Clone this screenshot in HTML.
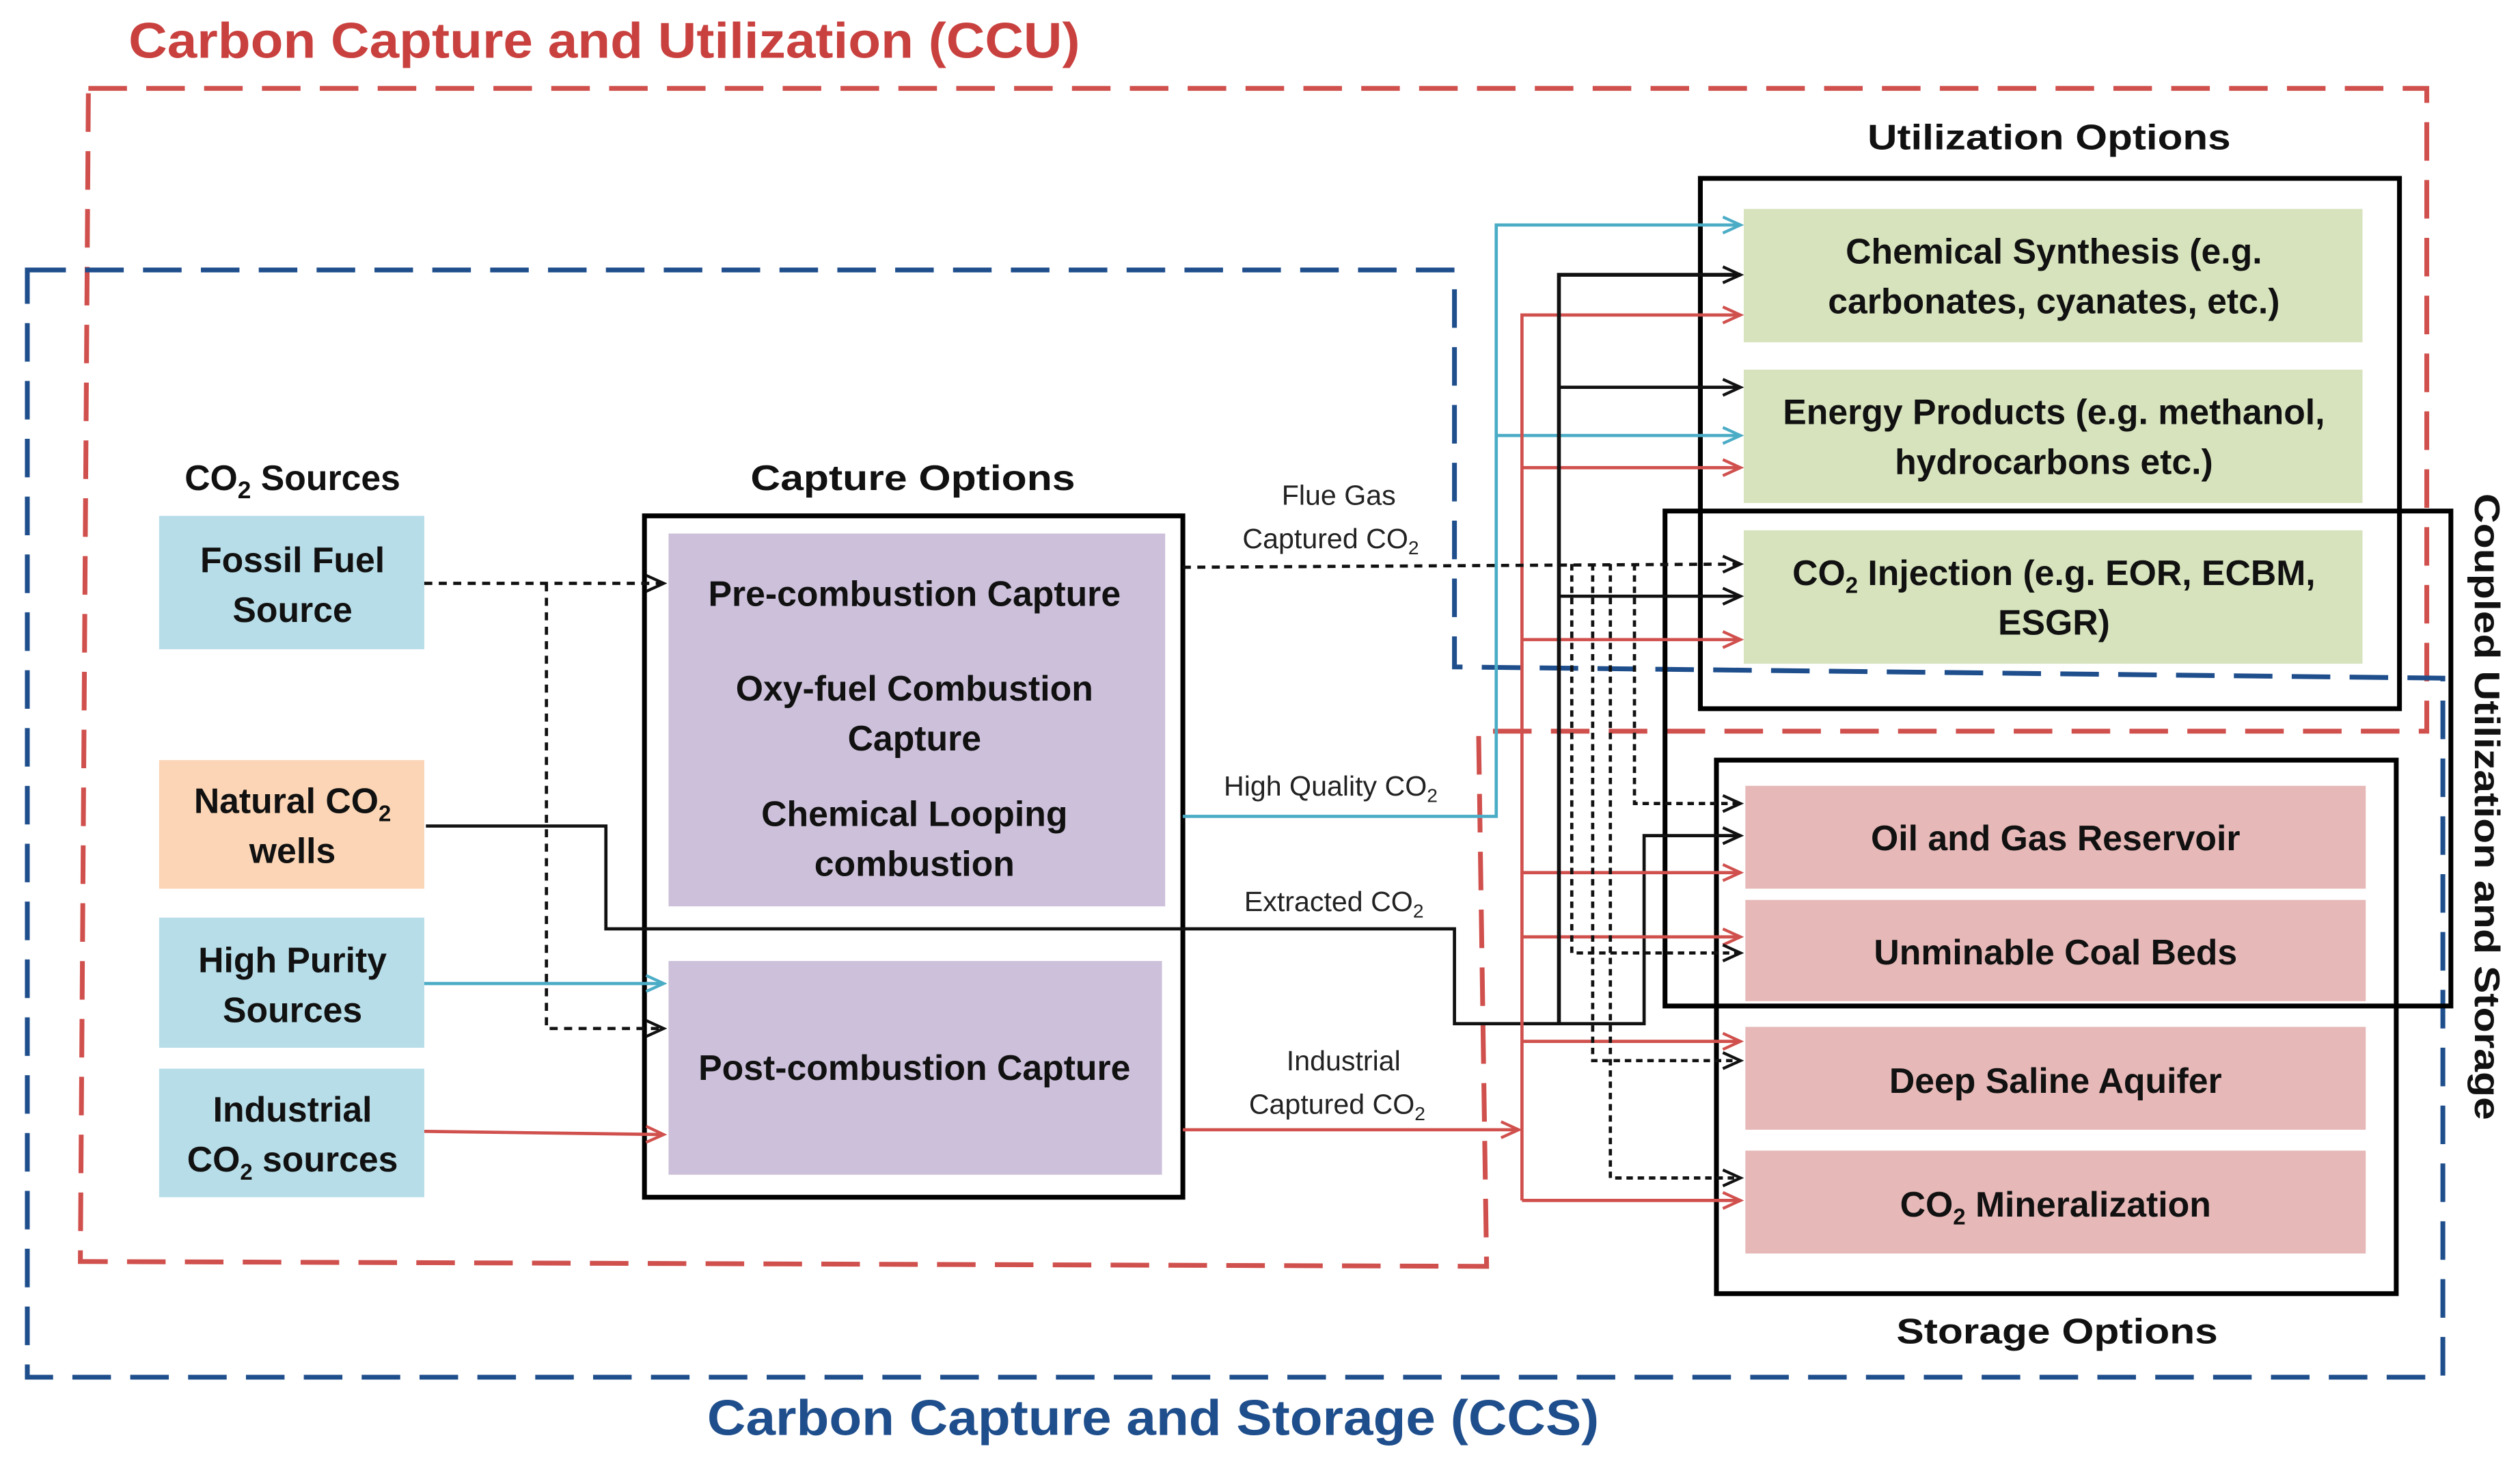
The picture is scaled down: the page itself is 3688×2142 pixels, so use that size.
<!DOCTYPE html>
<html><head><meta charset="utf-8"><style>
html,body{margin:0;padding:0;background:#fff;}
svg{display:block;}
text{font-family:"Liberation Sans",sans-serif;}
.b{font-weight:bold;font-size:22px;fill:#111;text-anchor:middle;}
.s{font-size:17.5px;fill:#222;text-anchor:middle;}
</style></head><body>
<svg width="3688" height="2142" viewBox="0 0 1568 911" preserveAspectRatio="none" xmlns="http://www.w3.org/2000/svg">
<defs>
<marker id="ak" markerWidth="14" markerHeight="12" refX="12" refY="6" orient="auto" markerUnits="userSpaceOnUse"><path d="M1,1 L12,6 L1,11" fill="none" stroke="#111" stroke-width="1.8"/></marker>
<marker id="ar" markerWidth="14" markerHeight="12" refX="12" refY="6" orient="auto" markerUnits="userSpaceOnUse"><path d="M1,1 L12,6 L1,11" fill="none" stroke="#d0504d" stroke-width="1.8"/></marker>
<marker id="ac" markerWidth="14" markerHeight="12" refX="12" refY="6" orient="auto" markerUnits="userSpaceOnUse"><path d="M1,1 L12,6 L1,11" fill="none" stroke="#4bacc6" stroke-width="1.8"/></marker>
</defs>
<rect width="1568" height="911" fill="#fff"/>

<text x="80" y="36" textLength="592" lengthAdjust="spacingAndGlyphs" style="font-weight:bold;font-size:31px;fill:#c9413f">Carbon Capture and Utilization (CCU)</text>
<text x="440" y="893" textLength="555" lengthAdjust="spacingAndGlyphs" style="font-weight:bold;font-size:31px;fill:#1f4e8c">Carbon Capture and Storage (CCS)</text>

<path d="M55,55 L1510,55 L1510,455 L920,455 L925,788 L50,785 Z" fill="none" stroke="#d0504d" stroke-width="3" stroke-dasharray="24,12"/>
<path d="M17,168 L905,168 L905,415 L1520,422 L1520,857 L17,857 Z" fill="none" stroke="#1f4e8c" stroke-width="3" stroke-dasharray="24,12"/>

<text x="1275" y="93" class="b" textLength="226" lengthAdjust="spacingAndGlyphs">Utilization Options</text>
<rect x="1085" y="130" width="385" height="83" fill="#d6e3bc"/>
<rect x="1085" y="230" width="385" height="83" fill="#d6e3bc"/>
<rect x="1085" y="330" width="385" height="83" fill="#d6e3bc"/>
<text x="1278" y="164" class="b">Chemical Synthesis (e.g.</text>
<text x="1278" y="195" class="b">carbonates, cyanates, etc.)</text>
<text x="1278" y="264" class="b">Energy Products (e.g. methanol,</text>
<text x="1278" y="295" class="b">hydrocarbons etc.)</text>
<text x="1278" y="364" class="b">CO<tspan font-size="14" dy="5">2</tspan><tspan dy="-5"> Injection (e.g. EOR, ECBM,</tspan></text>
<text x="1278" y="395" class="b">ESGR)</text>

<rect x="1086" y="489" width="386" height="64" fill="#e6b8b7"/>
<rect x="1086" y="560" width="386" height="63" fill="#e6b8b7"/>
<rect x="1086" y="639" width="386" height="64" fill="#e6b8b7"/>
<rect x="1086" y="716" width="386" height="64" fill="#e6b8b7"/>
<text x="1279" y="529" class="b">Oil and Gas Reservoir</text>
<text x="1279" y="600" class="b">Unminable Coal Beds</text>
<text x="1279" y="680" class="b">Deep Saline Aquifer</text>
<text x="1279" y="757" class="b">CO<tspan font-size="14" dy="5">2</tspan><tspan dy="-5"> Mineralization</tspan></text>
<text x="1280" y="836" class="b" textLength="200" lengthAdjust="spacingAndGlyphs">Storage Options</text>

<rect x="1058" y="111" width="435" height="330" fill="none" stroke="#000" stroke-width="3"/>
<rect x="1036" y="318" width="489" height="308" fill="none" stroke="#000" stroke-width="3"/>
<rect x="1068" y="473" width="423" height="332" fill="none" stroke="#000" stroke-width="3"/>
<text transform="translate(1540,502) rotate(90)" class="b" textLength="390" lengthAdjust="spacingAndGlyphs">Coupled Utilization and Storage</text>

<text x="182" y="305" class="b">CO<tspan font-size="15" dy="5">2</tspan><tspan dy="-5"> Sources</tspan></text>
<rect x="99" y="321" width="165" height="83" fill="#b7dde8"/>
<rect x="99" y="473" width="165" height="80" fill="#fbd5b5"/>
<rect x="99" y="571" width="165" height="81" fill="#b7dde8"/>
<rect x="99" y="665" width="165" height="80" fill="#b7dde8"/>
<text x="182" y="356" class="b">Fossil Fuel</text>
<text x="182" y="387" class="b">Source</text>
<text x="182" y="506" class="b">Natural CO<tspan font-size="14" dy="5">2</tspan></text>
<text x="182" y="537" class="b">wells</text>
<text x="182" y="605" class="b">High Purity</text>
<text x="182" y="636" class="b">Sources</text>
<text x="182" y="698" class="b">Industrial</text>
<text x="182" y="729" class="b">CO<tspan font-size="14" dy="5">2</tspan><tspan dy="-5"> sources</tspan></text>

<text x="568" y="305" class="b" textLength="202" lengthAdjust="spacingAndGlyphs">Capture Options</text>
<rect x="416" y="332" width="309" height="232" fill="#ccc0da"/>
<rect x="416" y="598" width="307" height="133" fill="#ccc0da"/>
<rect x="401" y="321" width="335" height="424" fill="none" stroke="#000" stroke-width="3"/>
<text x="569" y="377" class="b">Pre-combustion Capture</text>
<text x="569" y="436" class="b">Oxy-fuel Combustion</text>
<text x="569" y="467" class="b">Capture</text>
<text x="569" y="514" class="b">Chemical Looping</text>
<text x="569" y="545" class="b">combustion</text>
<text x="569" y="672" class="b">Post-combustion Capture</text>

<g fill="none" stroke-width="2">
<path d="M264,363 L413,363" stroke="#111" stroke-dasharray="5,4" marker-end="url(#ak)"/>
<path d="M340,363 L340,640 L413,640" stroke="#111" stroke-dasharray="5,4" marker-end="url(#ak)"/>
<path d="M264,612 L413,612" stroke="#4bacc6" marker-end="url(#ac)"/>
<path d="M264,704 L413,706" stroke="#d0504d" marker-end="url(#ar)"/>
<path d="M265,514 L377,514 L377,578 L905,578 L905,637 L1023,637 L1023,520 L1083,520" stroke="#111" marker-end="url(#ak)"/>
</g>

<text x="833" y="314" class="s">Flue Gas</text>
<text x="828" y="341" class="s">Captured CO<tspan font-size="12" dy="4">2</tspan></text>
<text x="828" y="495" class="s">High Quality CO<tspan font-size="12" dy="4">2</tspan></text>
<text x="830" y="567" class="s">Extracted CO<tspan font-size="12" dy="4">2</tspan></text>
<text x="836" y="666" class="s">Industrial</text>
<text x="832" y="693" class="s">Captured CO<tspan font-size="12" dy="4">2</tspan></text>

<g fill="none" stroke-width="2">
<path d="M736,508 L931,508 L931,140 L1083,140" stroke="#4bacc6" marker-end="url(#ac)"/>
<path d="M931,271 L1083,271" stroke="#4bacc6" marker-end="url(#ac)"/>
<path d="M736,703 L945,703" stroke="#d0504d" marker-end="url(#ar)"/>
<path d="M947,747 L947,196 L1083,196" stroke="#d0504d" marker-end="url(#ar)"/>
<path d="M947,291 L1083,291" stroke="#d0504d" marker-end="url(#ar)"/>
<path d="M947,398 L1083,398" stroke="#d0504d" marker-end="url(#ar)"/>
<path d="M947,543 L1083,543" stroke="#d0504d" marker-end="url(#ar)"/>
<path d="M947,583 L1083,583" stroke="#d0504d" marker-end="url(#ar)"/>
<path d="M947,648 L1083,648" stroke="#d0504d" marker-end="url(#ar)"/>
<path d="M947,747 L1083,747" stroke="#d0504d" marker-end="url(#ar)"/>
<path d="M970,637 L970,171 L1083,171" stroke="#111" stroke-width="2.4" marker-end="url(#ak)"/>
<path d="M970,241 L1083,241" stroke="#111" marker-end="url(#ak)"/>
<path d="M970,371 L1083,371" stroke="#111" marker-end="url(#ak)"/>
<path d="M736,353 L1083,351" stroke="#111" stroke-dasharray="5,4" marker-end="url(#ak)"/>
<path d="M1017,351 L1017,500 L1083,500" stroke="#111" stroke-dasharray="4,3" marker-end="url(#ak)"/>
<path d="M978,351 L978,593 L1083,593" stroke="#111" stroke-dasharray="4,3" marker-end="url(#ak)"/>
<path d="M991,351 L991,660 L1083,660" stroke="#111" stroke-dasharray="4,3" marker-end="url(#ak)"/>
<path d="M1002,351 L1002,733 L1083,733" stroke="#111" stroke-dasharray="4,3" marker-end="url(#ak)"/>
</g>
</svg>
</body></html>
